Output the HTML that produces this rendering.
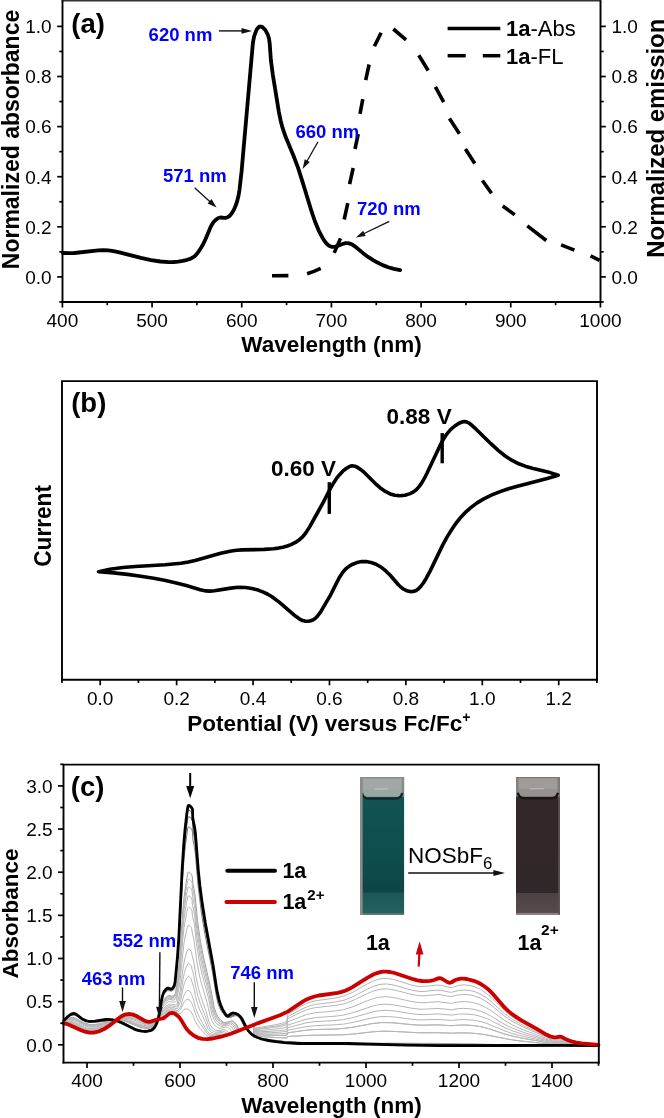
<!DOCTYPE html>
<html><head><meta charset="utf-8"><style>
html,body{margin:0;padding:0;background:#fff;width:664px;height:1118px;overflow:hidden}
svg{display:block;will-change:transform}
text{font-family:"Liberation Sans",sans-serif}
</style></head><body>
<svg width="664" height="1118" viewBox="0 0 664 1118" font-family="Liberation Sans">
<rect width="664" height="1118" fill="#fff"/>
<line x1="61.50" y1="0.60" x2="601.40" y2="0.60" stroke="#333" stroke-width="1.6" />
<line x1="62.50" y1="0.60" x2="62.50" y2="302.90" stroke="#000" stroke-width="1.9" />
<line x1="600.50" y1="0.60" x2="600.50" y2="302.90" stroke="#000" stroke-width="1.9" />
<line x1="61.60" y1="302.00" x2="601.40" y2="302.00" stroke="#000" stroke-width="1.9" />
<line x1="62.40" y1="302.00" x2="62.40" y2="307.50" stroke="#000" stroke-width="1.7" />
<text x="62.40" y="326.70" font-size="19" text-anchor="middle" fill="#000" >400</text>
<line x1="107.23" y1="302.00" x2="107.23" y2="305.20" stroke="#000" stroke-width="1.7" />
<line x1="152.07" y1="302.00" x2="152.07" y2="307.50" stroke="#000" stroke-width="1.7" />
<text x="152.07" y="326.70" font-size="19" text-anchor="middle" fill="#000" >500</text>
<line x1="196.91" y1="302.00" x2="196.91" y2="305.20" stroke="#000" stroke-width="1.7" />
<line x1="241.74" y1="302.00" x2="241.74" y2="307.50" stroke="#000" stroke-width="1.7" />
<text x="241.74" y="326.70" font-size="19" text-anchor="middle" fill="#000" >600</text>
<line x1="286.57" y1="302.00" x2="286.57" y2="305.20" stroke="#000" stroke-width="1.7" />
<line x1="331.41" y1="302.00" x2="331.41" y2="307.50" stroke="#000" stroke-width="1.7" />
<text x="331.41" y="326.70" font-size="19" text-anchor="middle" fill="#000" >700</text>
<line x1="376.25" y1="302.00" x2="376.25" y2="305.20" stroke="#000" stroke-width="1.7" />
<line x1="421.08" y1="302.00" x2="421.08" y2="307.50" stroke="#000" stroke-width="1.7" />
<text x="421.08" y="326.70" font-size="19" text-anchor="middle" fill="#000" >800</text>
<line x1="465.92" y1="302.00" x2="465.92" y2="305.20" stroke="#000" stroke-width="1.7" />
<line x1="510.75" y1="302.00" x2="510.75" y2="307.50" stroke="#000" stroke-width="1.7" />
<text x="510.75" y="326.70" font-size="19" text-anchor="middle" fill="#000" >900</text>
<line x1="555.59" y1="302.00" x2="555.59" y2="305.20" stroke="#000" stroke-width="1.7" />
<line x1="600.42" y1="302.00" x2="600.42" y2="307.50" stroke="#000" stroke-width="1.7" />
<text x="600.42" y="326.70" font-size="19" text-anchor="middle" fill="#000" >1000</text>
<line x1="59.30" y1="301.95" x2="62.50" y2="301.95" stroke="#000" stroke-width="1.7" />
<line x1="600.50" y1="301.95" x2="603.70" y2="301.95" stroke="#000" stroke-width="1.7" />
<line x1="57.20" y1="276.90" x2="62.50" y2="276.90" stroke="#000" stroke-width="1.7" />
<line x1="600.50" y1="276.90" x2="605.80" y2="276.90" stroke="#000" stroke-width="1.7" />
<text x="51.60" y="283.70" font-size="19" text-anchor="end" fill="#000" >0.0</text>
<text x="611.50" y="283.70" font-size="19" text-anchor="start" fill="#000" >0.0</text>
<line x1="59.30" y1="251.85" x2="62.50" y2="251.85" stroke="#000" stroke-width="1.7" />
<line x1="600.50" y1="251.85" x2="603.70" y2="251.85" stroke="#000" stroke-width="1.7" />
<line x1="57.20" y1="226.80" x2="62.50" y2="226.80" stroke="#000" stroke-width="1.7" />
<line x1="600.50" y1="226.80" x2="605.80" y2="226.80" stroke="#000" stroke-width="1.7" />
<text x="51.60" y="233.60" font-size="19" text-anchor="end" fill="#000" >0.2</text>
<text x="611.50" y="233.60" font-size="19" text-anchor="start" fill="#000" >0.2</text>
<line x1="59.30" y1="201.75" x2="62.50" y2="201.75" stroke="#000" stroke-width="1.7" />
<line x1="600.50" y1="201.75" x2="603.70" y2="201.75" stroke="#000" stroke-width="1.7" />
<line x1="57.20" y1="176.70" x2="62.50" y2="176.70" stroke="#000" stroke-width="1.7" />
<line x1="600.50" y1="176.70" x2="605.80" y2="176.70" stroke="#000" stroke-width="1.7" />
<text x="51.60" y="183.50" font-size="19" text-anchor="end" fill="#000" >0.4</text>
<text x="611.50" y="183.50" font-size="19" text-anchor="start" fill="#000" >0.4</text>
<line x1="59.30" y1="151.65" x2="62.50" y2="151.65" stroke="#000" stroke-width="1.7" />
<line x1="600.50" y1="151.65" x2="603.70" y2="151.65" stroke="#000" stroke-width="1.7" />
<line x1="57.20" y1="126.60" x2="62.50" y2="126.60" stroke="#000" stroke-width="1.7" />
<line x1="600.50" y1="126.60" x2="605.80" y2="126.60" stroke="#000" stroke-width="1.7" />
<text x="51.60" y="133.40" font-size="19" text-anchor="end" fill="#000" >0.6</text>
<text x="611.50" y="133.40" font-size="19" text-anchor="start" fill="#000" >0.6</text>
<line x1="59.30" y1="101.55" x2="62.50" y2="101.55" stroke="#000" stroke-width="1.7" />
<line x1="600.50" y1="101.55" x2="603.70" y2="101.55" stroke="#000" stroke-width="1.7" />
<line x1="57.20" y1="76.50" x2="62.50" y2="76.50" stroke="#000" stroke-width="1.7" />
<line x1="600.50" y1="76.50" x2="605.80" y2="76.50" stroke="#000" stroke-width="1.7" />
<text x="51.60" y="83.30" font-size="19" text-anchor="end" fill="#000" >0.8</text>
<text x="611.50" y="83.30" font-size="19" text-anchor="start" fill="#000" >0.8</text>
<line x1="59.30" y1="51.45" x2="62.50" y2="51.45" stroke="#000" stroke-width="1.7" />
<line x1="600.50" y1="51.45" x2="603.70" y2="51.45" stroke="#000" stroke-width="1.7" />
<line x1="57.20" y1="26.40" x2="62.50" y2="26.40" stroke="#000" stroke-width="1.7" />
<line x1="600.50" y1="26.40" x2="605.80" y2="26.40" stroke="#000" stroke-width="1.7" />
<text x="51.60" y="33.20" font-size="19" text-anchor="end" fill="#000" >1.0</text>
<text x="611.50" y="33.20" font-size="19" text-anchor="start" fill="#000" >1.0</text>
<path d="M62.9,253L68.4,253.2L74.3,253L98.3,250.4L103.3,250.2L108.2,250.4L113.6,251.1L119.4,252.3L140.9,257.8L151.1,260.1L160.5,261.5L168.8,262.1L173.8,262L178.2,261.6L182.7,260.9L187.2,259.8L190.1,258.9L192.8,257.5L194.8,256.1L196.5,254.3L199.8,249.9L202.8,244.8L205.6,239L210.5,227.2L212,224.5L213.6,222L216,219.6L218.4,218L220.3,217.5L224.5,217.9L226,217.8L227.7,217.2L229.6,215.9L231.8,213.3L233.8,209.9L235.8,205.3L237.3,200.6L238.5,195.7L239.5,189.8L241.6,171.2L252.9,42.9L254.1,36.4L256.1,30.8L257.1,28.9L258.3,27.5L259.2,26.7L260.3,26.5L261.4,26.7L262.6,27.3L264.1,28.7L265.5,30.3L267.7,34.3L269,38.5L269.7,43.5L270.9,60.3L272.8,74.6L278.9,112.1L280.6,120.4L282.5,127.7L285.5,136.6L293.4,155.5L298,167.7L302.3,181.1L311.5,211.2L314.8,221L318.4,229.8L322.4,237.7L324.7,241.3L326.9,244L329.1,245.8L331.5,246.8L333.2,246.9L335.5,246.6L342.6,244L345.5,243.2L347.9,243.2L350.6,243.8L352.7,244.9L354.8,246.3L362.8,252.9L368.1,256.9L372.7,259.9L377,262.3L382.7,265.1L388.2,267.2L394,268.9L400.1,270.1" fill="none" stroke="#000" stroke-width="3.8" stroke-linejoin="round" stroke-linecap="round"/>
<path d="M272.0,275.8 L288.4,275.6M307.1,273.7 L314.0,271.4 L320.7,268.3M334.2,252.9 L340.5,238.4M344.2,219.5 L347.8,203.2M349.6,184.2 L353.2,168.0M355.0,149.0 L358.2,134.0M360.0,113.9 L362.8,99.2M365.7,80.1 L369.1,64.5M374.4,46.3 L381.1,32.8M393.3,29.0 L406.1,39.8M418.8,55.2 L428.2,70.5M435.4,86.8 L443.7,102.1M449.5,118.4 L459.4,133.7M465.4,149.1 L474.8,163.6M482.4,180.5 L491.5,193.3M502.7,206.0 L514.7,214.8M527.3,225.8 L546.3,240.5M561.1,244.8 L574.4,250.2M590.6,255.9 L599.6,260.3" fill="none" stroke="#000" stroke-width="3.6" stroke-linecap="butt"/>
<line x1="447.60" y1="28.60" x2="500.30" y2="28.60" stroke="#000" stroke-width="3.5" />
<line x1="447.60" y1="55.70" x2="465.70" y2="55.70" stroke="#000" stroke-width="3.5" />
<line x1="482.80" y1="55.70" x2="500.30" y2="55.70" stroke="#000" stroke-width="3.5" />
<text x="506" y="35.7" font-size="22"><tspan font-weight="bold">1a</tspan>-Abs</text>
<text x="506" y="63.8" font-size="22"><tspan font-weight="bold">1a</tspan>-FL</text>
<text x="71.30" y="33.20" font-size="27.5" font-weight="bold" text-anchor="start" fill="#000" >(a)</text>
<text x="331.50" y="352.30" font-size="22.5" font-weight="bold" text-anchor="middle" fill="#000" >Wavelength (nm)</text>
<text transform="translate(19.40,139.50) rotate(-90)" x="0" y="0" font-size="23" font-weight="bold" text-anchor="middle">Normalized absorbance</text>
<text transform="translate(664.30,138.20) rotate(-90)" x="0" y="0" font-size="23.9" font-weight="bold" text-anchor="middle">Normalized emission</text>
<text x="148.60" y="40.60" font-size="18.5" font-weight="bold" text-anchor="start" fill="#0000ff" >620 nm</text>
<text x="163.00" y="181.60" font-size="18.5" font-weight="bold" text-anchor="start" fill="#0000ff" >571 nm</text>
<text x="295.40" y="137.70" font-size="18.5" font-weight="bold" text-anchor="start" fill="#0000ff" >660 nm</text>
<text x="357.00" y="215.40" font-size="18.5" font-weight="bold" text-anchor="start" fill="#0000ff" >720 nm</text>
<line x1="218.90" y1="30.90" x2="242.50" y2="30.90" stroke="#111" stroke-width="1.4" />
<polygon points="252.00,30.90 241.50,33.80 241.50,28.00" fill="#111"/>
<line x1="194.60" y1="187.70" x2="210.30" y2="201.90" stroke="#111" stroke-width="1.3" />
<polygon points="216.60,207.60 207.61,203.38 211.50,199.08" fill="#111"/>
<line x1="318.00" y1="141.70" x2="306.79" y2="161.50" stroke="#111" stroke-width="1.3" />
<polygon points="302.60,168.90 304.76,159.20 309.80,162.06" fill="#111"/>
<line x1="389.30" y1="221.30" x2="363.55" y2="233.79" stroke="#111" stroke-width="1.3" />
<polygon points="355.90,237.50 363.18,230.74 365.71,235.96" fill="#111"/>
<line x1="61.10" y1="381.10" x2="597.90" y2="381.10" stroke="#000" stroke-width="1.9" />
<line x1="62.00" y1="381.10" x2="62.00" y2="680.70" stroke="#000" stroke-width="1.9" />
<line x1="597.00" y1="381.10" x2="597.00" y2="680.70" stroke="#000" stroke-width="1.9" />
<line x1="61.10" y1="679.80" x2="597.90" y2="679.80" stroke="#000" stroke-width="1.9" />
<line x1="61.99" y1="679.80" x2="61.99" y2="683.00" stroke="#000" stroke-width="1.7" />
<line x1="100.20" y1="679.80" x2="100.20" y2="685.30" stroke="#000" stroke-width="1.7" />
<text x="100.20" y="704.60" font-size="19" text-anchor="middle" fill="#000" >0.0</text>
<line x1="138.41" y1="679.80" x2="138.41" y2="683.00" stroke="#000" stroke-width="1.7" />
<line x1="176.62" y1="679.80" x2="176.62" y2="685.30" stroke="#000" stroke-width="1.7" />
<text x="176.62" y="704.60" font-size="19" text-anchor="middle" fill="#000" >0.2</text>
<line x1="214.83" y1="679.80" x2="214.83" y2="683.00" stroke="#000" stroke-width="1.7" />
<line x1="253.04" y1="679.80" x2="253.04" y2="685.30" stroke="#000" stroke-width="1.7" />
<text x="253.04" y="704.60" font-size="19" text-anchor="middle" fill="#000" >0.4</text>
<line x1="291.25" y1="679.80" x2="291.25" y2="683.00" stroke="#000" stroke-width="1.7" />
<line x1="329.46" y1="679.80" x2="329.46" y2="685.30" stroke="#000" stroke-width="1.7" />
<text x="329.46" y="704.60" font-size="19" text-anchor="middle" fill="#000" >0.6</text>
<line x1="367.67" y1="679.80" x2="367.67" y2="683.00" stroke="#000" stroke-width="1.7" />
<line x1="405.88" y1="679.80" x2="405.88" y2="685.30" stroke="#000" stroke-width="1.7" />
<text x="405.88" y="704.60" font-size="19" text-anchor="middle" fill="#000" >0.8</text>
<line x1="444.09" y1="679.80" x2="444.09" y2="683.00" stroke="#000" stroke-width="1.7" />
<line x1="482.30" y1="679.80" x2="482.30" y2="685.30" stroke="#000" stroke-width="1.7" />
<text x="482.30" y="704.60" font-size="19" text-anchor="middle" fill="#000" >1.0</text>
<line x1="520.51" y1="679.80" x2="520.51" y2="683.00" stroke="#000" stroke-width="1.7" />
<line x1="558.72" y1="679.80" x2="558.72" y2="685.30" stroke="#000" stroke-width="1.7" />
<text x="558.72" y="704.60" font-size="19" text-anchor="middle" fill="#000" >1.2</text>
<line x1="596.93" y1="679.80" x2="596.93" y2="683.00" stroke="#000" stroke-width="1.7" />
<path d="M98.6,571.7L109.9,569.3L122.8,567.5L135.2,566.5L165.1,564.8L180.9,563.2L188.3,562L195.1,560.5L220.7,553.3L231.4,551L236.7,550.3L242.1,549.9L264.1,549.4L273.3,548.8L278.4,548.1L282.9,547.2L287.3,546L291,544.6L295.4,542.4L299.4,539.7L302.6,536.8L305.7,533L309.5,527.1L316.8,514L322.8,503.2L330.3,488.6L333.9,482.4L336.7,478.2L339.8,474.4L342.8,471.2L346.2,468.5L349.5,466.5L352.1,465.8L354.9,466.2L357.7,467.5L360.9,469.7L364.5,472.7L375.1,483.3L380,487.7L385.4,491.4L390.2,493.9L394.9,495.3L399.8,495.8L404.9,495.3L409.4,493.9L413.1,492.1L416.3,489.7L419.3,486.4L421.9,482.7L424.2,478.7L427.2,472.8L440.8,444L443.7,438.7L446.8,434.1L450.3,429.9L454.1,426.5L458.9,423.3L462.8,421.8L464.7,421.6L466.5,421.9L468.6,422.8L470.5,424.2L476.1,429.2L490.9,443.7L497.9,450.1L505.2,456L512.6,460.7L518.8,463.8L525.9,466.4L533.3,468.5L550.1,472.6L558.3,475.2L558.3,475.3L547.2,478.5L516.5,486.4L507.7,489L500.1,491.6L491.3,495.2L483.8,498.9L477.1,502.9L470.8,507.6L465.7,512.1L460.9,517.2L456.2,523L451.9,529.2L447,537.1L442.4,545.6L430.1,571.1L426.3,578.2L423.5,582.7L420.9,586.2L418.5,588.8L416.2,590.5L413.3,591.5L410.3,591.6L406.7,590.7L403.3,589L401,587.2L398.4,584.8L390.2,575.3L386.1,571.2L381.3,567.3L376,564.3L370.9,562.4L366.2,561.6L361.8,561.6L357,562.6L352.8,564.2L349.3,566.1L346.1,568.6L343,571.9L339.2,577.7L330.2,595.6L320.5,612.2L317.6,616L315.2,618.4L312.8,620L309.8,621L307.6,621.3L304.9,621.1L302.6,620.5L300,619.3L295.4,616.1L279.5,602.4L272,596.8L267.3,594L262.8,591.9L258.1,590.1L253.2,588.8L245.8,587.5L238.3,587.3L230.8,588.1L214.4,590.8L209.9,591.1L206,590.9L200.2,589.7L186.3,585.6L175.2,582.7L164.4,580.3L153.7,578.2L140.8,576.2L127.5,574.4L113.5,572.9L98.6,571.7" fill="none" stroke="#000" stroke-width="3.6" stroke-linejoin="round" stroke-linecap="round"/>
<line x1="329.30" y1="482.20" x2="329.30" y2="513.90" stroke="#000" stroke-width="3.4" />
<line x1="442.20" y1="433.10" x2="442.20" y2="463.30" stroke="#000" stroke-width="3.4" />
<text x="270.90" y="475.70" font-size="22.5" font-weight="bold" text-anchor="start" fill="#000" >0.60 V</text>
<text x="386.60" y="423.60" font-size="22.5" font-weight="bold" text-anchor="start" fill="#000" >0.88 V</text>
<text x="71.20" y="412.20" font-size="27.5" font-weight="bold" text-anchor="start" fill="#000" >(b)</text>
<text transform="translate(51.4,525.9) rotate(-90)" font-size="24" font-weight="bold" text-anchor="middle" textLength="81.6" lengthAdjust="spacingAndGlyphs">Current</text>
<text x="187.2" y="731.3" font-size="22.5" font-weight="bold">Potential (V) versus Fc/Fc<tspan font-size="14" dy="-9.5">+</tspan></text>
<path d="M64,1020.4L66.5,1017.6L69,1015.6L71.5,1014.4L74,1014.1L77,1015.2L84,1019.5L89.5,1021.1L96,1021.4L111.5,1020.2L115,1020.3L118.5,1020.9L123.5,1022.8L135.5,1029.8L139,1031L142,1031.4L146.5,1031.1L151,1029.6L154,1027.5L156.5,1024.3L158,1020.8L159,1016.9L161,1002.2L162,997.5L163,994.5L165,991.1L167.5,988.9L168.5,988.7L171,989.4L172.5,988.9L174,986.9L175,983.7L177.5,957.5L179,936.9L182,874.8L184,844.7L185.5,829.2L187.5,813.4L188,810.7L188.5,810L189,810L190,810.5L191.5,812L192.5,814.4L193,823.9L194.5,831.4L195.5,838.5L198.5,876L202,905.2L205,924L212.5,963.6L216.5,990.5L218.5,1000L220,1004.6L222,1008.8L224.5,1012.5L227,1015L228.5,1015.8L230,1016L231.5,1015.7L236,1014L237.5,1014.1L239,1014.8L240.5,1016.3L242,1018.7L246,1027.8L253.5,1024.8L254,1036.3L257.5,1037.7L262,1038.8L281,1041.4L303.5,1043.3L328,1044.4L354.5,1044.7L427.5,1044.7L541,1045.9L598.5,1045.5" fill="none" stroke="rgb(80,80,80)" stroke-width="1.0"/>
<path d="M64,1020.4L66.5,1017.8L69,1015.9L71.5,1014.7L74,1014.5L77,1015.6L84,1019.9L89.5,1021.5L96.5,1021.7L112,1020.3L115.5,1020.4L119,1021L124,1022.9L135.5,1029.4L139,1030.6L142.5,1031.1L147,1030.8L151,1029.4L154,1027.3L156.5,1024.2L158,1020.8L159,1017L161.5,1000.1L163.5,994.2L165.5,991.3L167.5,989.7L169,989.5L171,990.2L172.5,989.6L174,987.8L175,984.8L177.5,959.6L179,939.8L182,879.7L184,850.4L185.5,835.4L187.5,820L188,817.4L188.5,816.8L189,816.8L190,817.3L191.5,818.8L192.5,821.5L193,830.4L194.5,837.8L195.5,845L198.5,881.5L202,909.9L205,928.1L212.5,966.7L216.5,993L218.5,1001.8L220,1006.1L222,1010.1L224.5,1013.6L227,1015.9L228.5,1016.5L230,1016.6L235.5,1014.7L237,1014.7L238.5,1015.3L240,1016.6L241.5,1018.9L245.5,1027.7L246,1027.8L253.5,1024.8L254,1036.3L257.5,1037.7L262,1038.8L281,1041.3L303,1043.1L327.5,1044.1L350.5,1044.4L433.5,1044.4L546,1045.9L598.5,1045.5" fill="none" stroke="rgb(95,95,95)" stroke-width="1.0"/>
<path d="M64,1020.6L66.5,1018.1L69,1016.3L71.5,1015.3L74,1015.1L77,1016.2L84,1020.4L87,1021.5L90,1022.1L97,1022.2L112.5,1020.4L116,1020.4L119.5,1020.9L124.5,1022.8L136,1028.9L139.5,1030L143,1030.5L147,1030.3L150.5,1029.3L153.5,1027.5L156,1024.8L157.5,1022L158.5,1019.2L159.5,1014.4L161.5,1001L163.5,995.3L165.5,992.4L167.5,990.9L169,990.6L171.5,991.2L172.5,990.8L174,989.2L175,986.6L177.5,963.1L179,944.4L182,887.3L184,859L185.5,844.7L187.5,830L188,827.5L188.5,826.9L189,826.9L190.5,827.9L191.5,829L192,829.9L192.5,832.2L193,840.3L194.5,847.5L195.5,855L198,885.2L201.5,913.8L205,934.5L212.5,971.9L216,994.5L218,1003.3L219.5,1007.5L221,1010.6L223,1013.6L225,1015.8L227,1017.2L229,1017.7L230.5,1017.4L235,1015.7L236.5,1015.7L238,1016.4L239.5,1017.8L240.5,1019.3L245,1028.2L253.5,1024.8L254,1036.2L254.5,1036.5L258,1037.8L262.5,1038.8L282,1041.3L303.5,1042.9L327,1043.9L348.5,1044.2L394.5,1043.9L436.5,1044.1L548,1045.8L598.5,1045.4" fill="none" stroke="rgb(117,117,117)" stroke-width="1.0"/>
<path d="M64,1021.2L66.5,1019.3L69,1018.1L71.5,1017.5L73.5,1017.6L76.5,1018.6L82,1021.9L85,1023.3L89,1024.4L93,1024.7L99.5,1023.9L113.5,1020.7L120,1020.3L123,1020.8L126,1021.7L139.5,1027.1L143,1028L146,1028.4L149,1028.2L151.5,1027.4L154,1026L156,1024L157.5,1021.7L158.5,1019.3L161.5,1005.2L163.5,1000.3L165.5,997.7L167.5,996.1L169,995.6L172,996.2L173,996L174.5,995L175.5,993.2L178,974.9L179.5,960L182.5,914.6L184,897.9L186.5,880L188,872.6L188.5,872L189.5,872.4L190.5,873.2L192,875.4L193,884.4L194,888.6L195,895.1L197.5,920.8L200.5,941.7L203.5,957.1L210.5,987.5L214,1006.6L216,1013L217.5,1016.1L219,1018.3L221,1020.5L223,1022L224.5,1022.5L226,1022.5L231.5,1020.8L233,1021.1L234,1021.6L236,1023.8L239.5,1030L240,1030.2L253.5,1024.8L254,1036.1L255,1036.6L258.5,1037.8L263.5,1038.8L283.5,1041.3L304.5,1042.5L326,1043.3L345.5,1043.6L389,1043.2L435.5,1043.4L474,1043.9L514,1045.1L546,1045.7L575,1045.8L598.5,1045.4" fill="none" stroke="rgb(156,156,156)" stroke-width="1.0"/>
<path d="M64,1021.3L66,1019.8L68.5,1018.6L71,1017.9L73,1017.9L76,1018.8L82.5,1022.6L85.5,1023.9L89,1024.8L93,1025L99.5,1024.2L114,1020.6L117.5,1020.2L120.5,1020.2L126.5,1021.6L140.5,1027L146.5,1028.1L149.5,1027.8L152,1027L154,1025.8L156,1023.9L157.5,1021.6L158.5,1019.3L161.5,1005.8L163.5,1001L165.5,998.5L168,996.6L169.5,996.3L172.5,996.9L174,996.4L175.5,994.4L176,992.4L179.5,963.5L182.5,920.1L184,903.9L186.5,886.7L188,879.6L188.5,879L189.5,879.4L190.5,880.2L192,882.4L192.5,888.1L194.5,898.1L197.5,927L200.5,947L203.5,961.8L210,989.2L213,1005.5L214.5,1011.4L217,1017.1L219,1019.9L221,1021.8L223,1023L224.5,1023.3L226,1023.1L230,1021.7L232.5,1022L234,1023.1L235,1024.2L239,1030.6L253.5,1024.8L254,1034.2L254.5,1034.9L258.5,1035.9L263.5,1036.6L275,1037.5L285,1037.9L287,1037.9L287.5,1036.5L309.5,1035.3L343.5,1034.8L352.5,1034.1L373,1031.8L382.5,1031.2L393,1031.4L419.5,1032.8L438,1032.7L451.5,1033.2L460.5,1032.9L469,1033L477,1033.6L484.5,1034.5L505.5,1038.7L514.5,1040.2L546,1043.8L576.5,1045.2L598.5,1045.3" fill="none" stroke="rgb(182,182,182)" stroke-width="1.0"/>
<path d="M64,1021.4L66,1020L68.5,1018.9L71,1018.3L73,1018.3L76,1019.2L82.5,1023L85.5,1024.3L89,1025.2L93,1025.4L99.5,1024.5L114.5,1020.6L118,1020.1L121,1020.1L127,1021.4L141.5,1026.8L147,1027.8L149.5,1027.6L151.5,1027L153.5,1025.9L155.5,1024.3L157,1022.4L158.5,1019.4L161.5,1006.5L162.5,1003.8L164,1001.1L166,998.9L168.5,997.3L170,997.2L172.5,997.8L174,997.4L175.5,995.8L176,994.3L179.5,967.3L182.5,926.1L184,910.5L186.5,894L188,887.3L188.5,886.7L190.5,887.9L192,890.1L192.5,896.3L194.5,905.6L197,929.8L200,950L203,964.7L209.5,991.3L212.5,1007.1L214,1012.9L216.5,1018.4L218.5,1021L220.5,1022.8L222,1023.8L224,1024.2L229.5,1022.6L232,1023.1L234,1024.9L238,1031L253.5,1024.8L254,1034.2L254.5,1034.9L258.5,1035.9L264,1036.7L275.5,1037.5L285.5,1037.9L287,1037.9L287.5,1036.5L309.5,1035.3L343.5,1034.8L352.5,1034.1L373,1031.8L382.5,1031.2L393,1031.4L419.5,1032.8L438,1032.7L451.5,1033.2L460,1032.9L468.5,1033L476.5,1033.5L484.5,1034.5L505.5,1038.7L515,1040.3L546,1043.8L576.5,1045.2L598.5,1045.3" fill="none" stroke="rgb(182,182,182)" stroke-width="1.0"/>
<path d="M64,1021.5L66,1020.2L68.5,1019.2L71,1018.7L73,1018.8L76,1019.8L82,1023.2L85,1024.6L88,1025.5L91.5,1025.9L95,1025.7L98.5,1025.2L113,1021L119.5,1019.9L123,1020.1L126.5,1020.8L141,1026.1L146,1027.3L148.5,1027.3L151,1026.9L153.5,1025.7L155.5,1024.1L157,1022.3L158.5,1019.4L161.5,1007.3L162.5,1004.7L164,1002.1L166,1000L168,998.6L169.5,998.1L172.5,998.8L173.5,998.7L175,997.9L176,996.3L179.5,971.6L182.5,933.2L184,918.2L186.5,902.6L188,896.3L188.5,895.7L190.5,896.9L192,899.2L192.5,905.4L194.5,914.4L197,937.8L200,956.8L202.5,968.6L209,994.3L212,1009.4L213.5,1014.9L216,1020L218,1022.4L220,1024.1L221.5,1024.9L223,1025.1L224.5,1024.9L228,1023.7L230.5,1023.9L232,1024.8L233,1025.9L236.5,1031.4L237,1031.4L253.5,1024.8L254,1032.8L254.5,1033.8L262,1034.9L278,1035.4L287,1035.2L287.5,1032.9L304.5,1030.4L313.5,1029.6L334.5,1029.1L344,1028.4L352.5,1027.3L372,1023.6L381.5,1022.6L392,1022.7L412,1024.7L420,1025.2L438,1024.9L451.5,1025.7L459.5,1025.1L467,1025.1L474.5,1025.7L482,1026.9L489,1028.8L504,1033.8L512,1036L523.5,1038.4L546,1042.4L553,1043.2L561,1043.3L577,1044.8L598.5,1045.2" fill="none" stroke="rgb(182,182,182)" stroke-width="1.0"/>
<path d="M64,1021.6L66,1020.5L68.5,1019.6L71,1019.3L73,1019.4L76,1020.4L84.5,1025L88,1026.1L91.5,1026.5L95,1026.3L98.5,1025.7L114,1020.8L120.5,1019.7L124,1019.9L128,1020.7L142,1025.8L146.5,1026.8L149,1026.9L151.5,1026.4L153.5,1025.4L155.5,1023.9L157,1022.1L158.5,1019.4L161.5,1008.3L162.5,1005.9L164,1003.4L166,1001.3L168.5,999.7L170,999.4L173.5,1000.1L175,999.5L176,998.4L176.5,996.6L178.5,984.3L180,972.4L182.5,941.9L184,927.8L186.5,913.4L188,907.5L188.5,907L189.5,907.4L191,908.8L192,910.8L192.5,916.5L194,922.4L194.5,925.6L196.5,943.9L199.5,962.6L202,974L208.5,998.5L211.5,1012.8L212.5,1016.3L215,1021.4L217,1023.8L219,1025.4L220.5,1026.1L222,1026.3L227,1025L229.5,1025.3L231.5,1026.8L235,1031.9L236,1031.8L253.5,1024.8L254,1032.8L254.5,1033.8L262,1034.9L278,1035.4L287,1035.2L287.5,1032.9L304.5,1030.4L313.5,1029.6L334.5,1029.1L344,1028.4L352.5,1027.3L372,1023.6L381.5,1022.6L392,1022.7L412,1024.7L420,1025.2L438,1024.9L451.5,1025.7L459.5,1025.1L466.5,1025L474.5,1025.7L482,1026.9L489,1028.8L504,1033.8L512,1036L523.5,1038.4L546,1042.4L553,1043.2L561,1043.3L577,1044.8L598.5,1045.2" fill="none" stroke="rgb(182,182,182)" stroke-width="1.0"/>
<path d="M64,1021.9L66,1021L68.5,1020.3L71,1020.2L73,1020.4L76,1021.5L84.5,1026L88,1027L91.5,1027.4L95,1027.2L99,1026.4L114.5,1020.7L118,1019.8L121.5,1019.3L125.5,1019.4L130,1020.3L135,1021.9L143,1025.1L147,1026.1L151,1025.9L153,1025.2L155,1023.9L157,1021.9L158.5,1019.5L162,1008.7L163.5,1006.1L165,1004.3L167,1002.6L169,1001.5L170.5,1001.4L173,1002L174.5,1002.1L175.5,1001.8L176.5,1000.7L178.5,990.8L180,981.2L184,942.9L186.5,930.4L188,925.5L188.5,925L190,925.9L191.5,927.6L192.5,934L194,939.9L196.5,959.7L199,973.5L201.5,983.8L207,1002.5L210.5,1017.1L211.5,1020.1L214,1024.4L215.5,1026L217.5,1027.4L219,1028.1L220.5,1028.3L225.5,1027L227.5,1027.3L229.5,1028.7L233,1033L253.5,1024.8L254,1031.8L254.5,1033L259.5,1033.7L268,1034L278.5,1033.9L287,1033.3L287.5,1030.3L305,1026.8L314.5,1025.7L335,1024.8L343.5,1024.1L352,1022.6L374,1017.5L381,1016.6L387.5,1016.5L394.5,1017L411.5,1019.3L419,1019.9L438,1019.4L451.5,1020.5L458.5,1019.7L463.5,1019.5L473.5,1020.2L480,1021.4L486,1023.1L505,1031L513,1033.7L524,1036.5L545.5,1041.3L551.5,1042.3L561,1042.6L569.5,1043.8L577,1044.5L598.5,1045.1" fill="none" stroke="rgb(182,182,182)" stroke-width="1.0"/>
<path d="M64,1022.2L68,1021.3L72.5,1021.6L75.5,1022.7L84.5,1027.3L88,1028.3L91,1028.7L95,1028.4L99,1027.4L103.5,1025.8L116,1020.3L120,1019.1L123.5,1018.5L128,1018.7L132.5,1019.6L136.5,1020.9L144,1024.2L147.5,1025.2L151,1025.2L154,1024.1L156,1022.6L158,1020.4L159,1018.5L162,1010.9L163.5,1008.6L165.5,1006.5L168,1004.8L170,1004L171.5,1004.1L175,1005L176.5,1004.8L177,1004.2L180,991.9L183,968.9L184.5,960.1L186.5,952.9L188,949.2L188.5,948.9L190,949.9L191.5,951.6L192,955L194,962.9L196,976.7L198.5,988.4L200.5,995.4L206,1011.3L209,1021.9L210,1024.5L212.5,1028L215.5,1030.1L218,1030.7L223,1029.6L225,1029.8L227,1031L230,1034L253.5,1024.8L254,1030.8L254.5,1032.3L260.5,1032.8L270.5,1032.7L279.5,1032.2L287,1031.4L287.5,1027.8L305.5,1023L315,1021.6L335,1020.5L343.5,1019.6L352,1017.8L374,1011.6L380.5,1010.5L387,1010.3L394,1010.9L411.5,1013.7L419,1014.5L424,1014.6L438,1013.9L451.5,1015.1L458.5,1014.2L463.5,1013.9L473.5,1014.7L480,1016.2L486,1018.3L491.5,1020.8L505,1027.8L513,1031.1L524,1034.5L545.5,1040.3L552.5,1041.6L561,1041.8L569.5,1043.3L577,1044.2L586.5,1044.8L598.5,1045.1" fill="none" stroke="rgb(182,182,182)" stroke-width="1.0"/>
<path d="M64,1022.4L68,1021.8L72,1022.3L75.5,1023.5L84.5,1028.1L88,1029.1L91,1029.4L95,1029.1L99,1028.1L103.5,1026.3L117,1019.8L121,1018.6L124.5,1018L129,1018L133.5,1018.9L137.5,1020.4L144.5,1023.6L147.5,1024.6L150.5,1024.8L153.5,1023.9L156,1022.4L158,1020.3L162,1012.2L164,1009.6L166,1007.8L168,1006.4L170,1005.7L171.5,1005.7L176,1006.9L177,1006.7L177.5,1005.9L180.5,995.5L183,979.5L184.5,972.1L186.5,966.4L188,963.5L188.5,963.3L190,964.4L191.5,966.1L192,969.6L193.5,974L195.5,985.9L198,996.5L200,1002.8L205.5,1016.7L208.5,1025.8L210,1028.4L211.5,1030L213.5,1031.3L215.5,1032.1L217.5,1032.1L221,1031.3L223,1031.2L225,1031.9L228,1034.5L228.5,1034.5L237,1031.4L253.5,1024.8L254,1029.8L254.5,1031.5L260,1031.7L269,1031.4L277.5,1030.8L284.5,1030L287,1029.5L287.5,1025.2L306,1019.3L315.5,1017.6L335,1016.2L343.5,1015.1L352,1013L373.5,1005.8L380,1004.5L386.5,1004.2L394,1004.9L411,1008.1L419,1009.1L424,1009.2L438,1008.4L451.5,1009.8L458.5,1008.6L463.5,1008.4L468.5,1008.6L473.5,1009.3L480,1011L486,1013.4L491.5,1016.4L505,1024.6L513,1028.4L524,1032.5L545.5,1039.3L552.5,1040.8L561,1041.1L569.5,1042.9L577,1043.9L586.5,1044.7L598.5,1045" fill="none" stroke="rgb(182,182,182)" stroke-width="1.0"/>
<path d="M64,1022.6L68,1022.2L72,1022.9L75.5,1024.3L84.5,1028.8L88,1029.8L91,1030.1L95,1029.8L99.5,1028.5L104,1026.5L117.5,1019.6L121.5,1018.1L125.5,1017.4L130,1017.4L134.5,1018.4L138,1019.7L144.5,1023L147.5,1024L150.5,1024.3L153,1023.8L155.5,1022.5L157.5,1020.8L159,1018.9L162.5,1012.7L164.5,1010.5L167,1008.5L169,1007.5L171,1007.1L172.5,1007.3L176,1008.6L177,1008.7L177.5,1008.5L180.5,1001L183.5,986.4L184.5,982.9L186.5,978.5L188,976.5L188.5,976.3L190.5,978L191.5,979.3L192,982.2L193.5,986.3L195.5,996.6L197.5,1003.8L199.5,1009.3L205,1021.3L207.5,1027.8L208.5,1029.6L210,1031.3L212,1032.6L214.5,1033.4L216.5,1033.4L220,1032.6L222,1032.6L223.5,1033L226.5,1035L227,1035L236.5,1031.6L253.5,1024.8L254.5,1030.6L260.5,1030.5L272,1029.6L285,1027.7L287,1027.2L287.5,1022.1L301,1016.6L306.5,1014.6L315.5,1012.7L335.5,1010.9L343.5,1009.6L352,1007.1L367.5,1000.7L373.5,998.6L380,997.1L386.5,996.7L394,997.6L411,1001.4L419,1002.6L424,1002.7L438,1001.7L451.5,1003.4L458.5,1001.9L464,1001.6L469,1001.9L473.5,1002.7L480,1004.7L486,1007.5L491.5,1011L505,1020.7L513,1025.3L523.5,1029.9L545.5,1038.1L552.5,1039.9L561,1040.2L569.5,1042.3L577,1043.6L586.5,1044.5L598.5,1044.9" fill="none" stroke="rgb(182,182,182)" stroke-width="1.0"/>
<path d="M64,1022.8L67.5,1022.7L71.5,1023.5L75,1024.9L84.5,1029.6L88,1030.6L91,1030.9L95,1030.5L99.5,1029.1L104,1027L118,1019.2L122,1017.7L126,1016.8L130,1016.6L134,1017.3L138,1018.8L147,1023.3L150,1023.9L152.5,1023.6L155,1022.5L157.5,1020.7L163,1013.4L165.5,1011.1L168,1009.6L170,1008.8L171.5,1008.7L173,1009L177,1010.7L178,1010.4L180,1007.4L181,1005.3L183.5,996.6L184.5,994.1L186.5,991.4L188,990.3L188.5,990.3L191.5,993.3L192,995.6L193.5,999.3L195.5,1007.5L197.5,1013.1L199.5,1017.4L207.5,1031.8L209.5,1033.5L212.5,1034.7L215,1034.8L219,1034L221,1033.9L222.5,1034.3L225,1035.6L234.5,1032.4L253.5,1024.8L254.5,1029.6L261,1029.1L274.5,1027.4L281,1026.3L286.5,1024.9L287,1024.8L287.5,1018.8L301,1012.2L306.5,1009.9L310.5,1008.7L315.5,1007.6L335.5,1005.4L344,1003.8L352,1000.9L367.5,993.5L373.5,991L380,989.3L386.5,988.8L394,989.9L411,994.3L419,995.7L424,995.8L438,994.6L441.5,994.9L449,996.4L451.5,996.5L458.5,994.9L464,994.4L469,994.8L474,995.8L480.5,998.2L486.5,1001.7L492,1005.8L504.5,1016.2L513,1021.9L523.5,1027.2L545.5,1036.8L552.5,1038.9L561,1039.3L569.5,1041.8L577,1043.2L586.5,1044.3L598.5,1044.8" fill="none" stroke="rgb(182,182,182)" stroke-width="1.0"/>
<path d="M64,1022.9L67.5,1023L71,1023.8L74.5,1025.2L84.5,1030.1L88,1031.1L91,1031.4L95,1030.9L99.5,1029.5L104.5,1027L118.5,1018.9L123,1017.1L127,1016.3L131,1016.2L134.5,1016.8L138,1018.2L147,1022.9L149.5,1023.5L152,1023.4L154.5,1022.6L157,1021L158.5,1019.7L161,1016.4L163.5,1013.8L166,1011.8L168.5,1010.4L170.5,1009.8L172.5,1009.8L177,1011.9L178,1012.1L181,1009L183.5,1003L184.5,1001.3L186,999.9L188,999.1L189.5,1000.1L191.5,1002.5L193.5,1007.6L195.5,1014.3L197.5,1018.9L199.5,1022.4L207,1033.4L209,1034.8L212,1035.6L214.5,1035.7L220,1034.8L224.5,1035.8L235,1032.2L253.5,1024.8L254.5,1029L274.5,1026.3L280.5,1025.1L286,1023.6L287,1023.3L287.5,1016.8L301,1009.5L306.5,1007L310.5,1005.6L315.5,1004.4L335.5,1002L344,1000.2L352,997.1L367.5,989L373.5,986.3L380,984.4L386.5,983.9L394,985.1L411,989.9L419,991.4L424,991.5L434,990.3L438,990.2L441.5,990.5L449,992.1L451.5,992.3L458.5,990.5L464,990L469,990.4L474,991.4L480.5,994.1L486.5,997.8L492,1002.3L504.5,1013.7L513,1019.8L523.5,1025.6L545.5,1036L549,1037.4L552.5,1038.3L561,1038.7L569.5,1041.4L577,1043L586.5,1044.2L598.5,1044.8" fill="none" stroke="rgb(182,182,182)" stroke-width="1.0"/>
<path d="M64,1023L67.5,1023.3L71,1024.3L82,1029.6L86,1031.1L89.5,1031.8L93,1031.8L97,1030.9L101,1029.2L117.5,1019.3L121.5,1017.4L125,1016.2L130,1015.6L134.5,1016.2L138,1017.5L147,1022.5L149.5,1023.2L151.5,1023.2L154,1022.5L157,1020.9L163.5,1014.7L166,1012.9L168.5,1011.5L170.5,1010.9L172.5,1011L174.5,1011.7L178,1013.7L178.5,1013.7L180.5,1013.2L181.5,1012.5L184,1009.5L185,1009L186.5,1008.9L188.5,1009.3L191,1011.8L193,1015.5L195.5,1021.7L197.5,1025.1L200,1028.3L206.5,1035.3L208.5,1036.2L211.5,1036.7L214,1036.6L219,1035.7L223,1036.2L234,1032.6L253.5,1024.8L254,1025.7L254.5,1028.3L275,1024.8L281,1023.5L286,1021.9L287,1021.5L287.5,1014.4L301,1006.4L306.5,1003.6L311,1001.9L316,1000.7L335.5,998L344,996L352,992.7L367.5,983.8L373.5,980.9L380,978.8L386,978.3L393.5,979.4L411,984.9L419,986.5L424,986.5L434,985.3L438,985.1L441.5,985.5L449,987.3L451.5,987.4L453.5,987.1L458.5,985.4L464,984.9L469,985.3L474,986.5L480.5,989.3L486.5,993.4L492,998.3L504.5,1010.7L513,1017.4L523.5,1023.7L545.5,1035.1L549,1036.6L552.5,1037.5L561,1038L569.5,1041L577,1042.7L586.5,1044L598.5,1044.7" fill="none" stroke="rgb(182,182,182)" stroke-width="1.0"/>
<path d="M63.8,1020.5L67.7,1016.7L69.8,1015L72,1013.8L73.7,1013.5L75,1013.7L76.3,1014.3L82.7,1019.3L86.3,1020.9L88.6,1021.3L91.5,1021.4L94.9,1021.1L106,1019.4L109,1019.4L112.5,1019.8L116.4,1020.7L120.1,1022.1L134.7,1029.3L138,1030.4L141.6,1031.2L146.4,1031.5L150.3,1030.7L152,1029.9L153.1,1029.1L155.2,1026.5L156.9,1022.8L158.4,1017.9L159.5,1012.6L161.8,998.8L162.7,995.1L163.6,992.6L165.1,990.2L167.1,988.4L167.9,988.1L168.7,988.2L171,989.1L171.8,989L172.5,988.4L174.1,986L175.1,982.2L177.5,956.6L178.8,938.2L182.1,870.3L183.7,845.4L185,829.9L186.6,815.4L187.8,806.9L188.2,805.8L188.7,805.4L189.9,805.9L191.2,807.1L192.1,808.5L192.6,810L192.7,817.7L194.7,828L195.4,833.4L198.3,870.3L199.9,885.7L201.9,901.1L205.3,922.8L213.1,965.5L216.8,989.9L219.1,1000.1L220.6,1004.8L222.3,1008.9L224.5,1012.8L226.4,1015.6L227.1,1016L227.9,1016L231.3,1013.6L232.3,1013.2L233.4,1013L235.8,1013.5L238.3,1014.8L240.4,1016.7L242.1,1019.1L246.5,1027.8L248.4,1030.9L251.1,1033.8L254.2,1036L257.3,1037.5L261,1038.8L265.8,1040L271.7,1041.1L284.1,1042.7L298,1043.5L347.6,1043.5L406.5,1045.1L440,1045.6L555.5,1045.4L598.5,1045.7" fill="none" stroke="#000" stroke-width="2.8" stroke-linejoin="round" stroke-linecap="round"/>
<path d="M63.5,1023.2L66.3,1023.8L69.5,1025L80.4,1029.9L85.1,1031.7L89.3,1032.6L93.6,1032.7L98.7,1031.5L104.1,1029.1L109,1025.9L119.8,1017.4L123.1,1015.4L126.1,1014.3L129.7,1014L133.4,1014.7L137.1,1016.3L144.9,1020.9L147.2,1021.7L149,1021.9L151.5,1021.4L157.1,1019.5L162.7,1018.5L164.5,1017.5L169.3,1013.6L170.6,1013.1L172.4,1013L173.7,1013.2L175.3,1013.9L178.4,1016.4L180.9,1019.6L185.3,1027L187.3,1029.8L190.5,1033.1L194.1,1035.8L198,1037.8L202.3,1038.9L207.2,1039.1L212.8,1038.5L221.2,1036.7L230.8,1033.7L258.1,1023.1L279.9,1015.3L287.7,1011.6L303.1,1001.4L307.1,999.2L310.8,997.7L314.6,996.5L318.9,995.5L337.6,992.8L341.5,991.9L345.2,990.7L348.9,989.1L352.4,987.2L367.2,977.8L373.3,974.5L376.9,973.1L380.1,972.2L383.3,971.7L386.2,971.6L390.1,972L394.6,973L413.2,979.2L417.5,980.3L421.9,981L426.4,981.2L430.5,980.8L434,980L438.2,978.4L439.6,978.1L441.8,978.6L447.2,982L449.4,982.8L451.2,982.5L455,980.2L456.8,979.5L460.6,978.7L463.7,978.6L466.8,979L473.7,980.8L477.4,982.3L481.3,984.3L484.6,986.5L488.1,989.2L493.3,994.4L504.8,1007.7L508.4,1011.1L512.7,1014.6L521,1020.1L536.3,1028.6L546.7,1034.8L550.5,1036.5L554,1037.4L556,1037.4L559.6,1036.6L560.8,1036.7L562.1,1037.1L566.1,1039.3L568.9,1040.5L572.2,1041.6L575.6,1042.4L581.5,1043.3L598.5,1044.8" fill="none" stroke="#cc0000" stroke-width="3.8" stroke-linejoin="round" stroke-linecap="round"/>
<line x1="62.60" y1="764.60" x2="599.70" y2="764.60" stroke="#000" stroke-width="1.9" />
<line x1="63.50" y1="764.60" x2="63.50" y2="1063.50" stroke="#000" stroke-width="1.9" />
<line x1="598.80" y1="764.60" x2="598.80" y2="1063.50" stroke="#000" stroke-width="1.9" />
<line x1="62.60" y1="1062.60" x2="599.70" y2="1062.60" stroke="#000" stroke-width="1.9" />
<line x1="87.00" y1="1062.60" x2="87.00" y2="1068.10" stroke="#000" stroke-width="1.7" />
<text x="87.00" y="1087.00" font-size="19" text-anchor="middle" fill="#000" >400</text>
<line x1="133.50" y1="1062.60" x2="133.50" y2="1065.80" stroke="#000" stroke-width="1.7" />
<line x1="180.00" y1="1062.60" x2="180.00" y2="1068.10" stroke="#000" stroke-width="1.7" />
<text x="180.00" y="1087.00" font-size="19" text-anchor="middle" fill="#000" >600</text>
<line x1="226.50" y1="1062.60" x2="226.50" y2="1065.80" stroke="#000" stroke-width="1.7" />
<line x1="273.00" y1="1062.60" x2="273.00" y2="1068.10" stroke="#000" stroke-width="1.7" />
<text x="273.00" y="1087.00" font-size="19" text-anchor="middle" fill="#000" >800</text>
<line x1="319.50" y1="1062.60" x2="319.50" y2="1065.80" stroke="#000" stroke-width="1.7" />
<line x1="366.00" y1="1062.60" x2="366.00" y2="1068.10" stroke="#000" stroke-width="1.7" />
<text x="366.00" y="1087.00" font-size="19" text-anchor="middle" fill="#000" >1000</text>
<line x1="412.50" y1="1062.60" x2="412.50" y2="1065.80" stroke="#000" stroke-width="1.7" />
<line x1="459.00" y1="1062.60" x2="459.00" y2="1068.10" stroke="#000" stroke-width="1.7" />
<text x="459.00" y="1087.00" font-size="19" text-anchor="middle" fill="#000" >1200</text>
<line x1="505.50" y1="1062.60" x2="505.50" y2="1065.80" stroke="#000" stroke-width="1.7" />
<line x1="552.00" y1="1062.60" x2="552.00" y2="1068.10" stroke="#000" stroke-width="1.7" />
<text x="552.00" y="1087.00" font-size="19" text-anchor="middle" fill="#000" >1400</text>
<line x1="598.50" y1="1062.60" x2="598.50" y2="1065.80" stroke="#000" stroke-width="1.7" />
<line x1="58.00" y1="1044.80" x2="63.50" y2="1044.80" stroke="#000" stroke-width="1.7" />
<text x="52.60" y="1051.60" font-size="19" text-anchor="end" fill="#000" >0.0</text>
<line x1="60.30" y1="1023.22" x2="63.50" y2="1023.22" stroke="#000" stroke-width="1.7" />
<line x1="58.00" y1="1001.65" x2="63.50" y2="1001.65" stroke="#000" stroke-width="1.7" />
<text x="52.60" y="1008.45" font-size="19" text-anchor="end" fill="#000" >0.5</text>
<line x1="60.30" y1="980.07" x2="63.50" y2="980.07" stroke="#000" stroke-width="1.7" />
<line x1="58.00" y1="958.50" x2="63.50" y2="958.50" stroke="#000" stroke-width="1.7" />
<text x="52.60" y="965.30" font-size="19" text-anchor="end" fill="#000" >1.0</text>
<line x1="60.30" y1="936.92" x2="63.50" y2="936.92" stroke="#000" stroke-width="1.7" />
<line x1="58.00" y1="915.35" x2="63.50" y2="915.35" stroke="#000" stroke-width="1.7" />
<text x="52.60" y="922.15" font-size="19" text-anchor="end" fill="#000" >1.5</text>
<line x1="60.30" y1="893.77" x2="63.50" y2="893.77" stroke="#000" stroke-width="1.7" />
<line x1="58.00" y1="872.20" x2="63.50" y2="872.20" stroke="#000" stroke-width="1.7" />
<text x="52.60" y="879.00" font-size="19" text-anchor="end" fill="#000" >2.0</text>
<line x1="60.30" y1="850.62" x2="63.50" y2="850.62" stroke="#000" stroke-width="1.7" />
<line x1="58.00" y1="829.05" x2="63.50" y2="829.05" stroke="#000" stroke-width="1.7" />
<text x="52.60" y="835.85" font-size="19" text-anchor="end" fill="#000" >2.5</text>
<line x1="60.30" y1="807.47" x2="63.50" y2="807.47" stroke="#000" stroke-width="1.7" />
<line x1="58.00" y1="785.90" x2="63.50" y2="785.90" stroke="#000" stroke-width="1.7" />
<text x="52.60" y="792.70" font-size="19" text-anchor="end" fill="#000" >3.0</text>
<line x1="60.30" y1="764.33" x2="63.50" y2="764.33" stroke="#000" stroke-width="1.7" />
<text x="70.80" y="795.90" font-size="27.5" font-weight="bold" text-anchor="start" fill="#000" >(c)</text>
<text x="331.50" y="1112.80" font-size="22.5" font-weight="bold" text-anchor="middle" fill="#000" >Wavelength (nm)</text>
<text transform="translate(18.40,913.60) rotate(-90)" x="0" y="0" font-size="22.5" font-weight="bold" text-anchor="middle">Absorbance</text>
<text x="81.70" y="984.60" font-size="18.5" font-weight="bold" text-anchor="start" fill="#0000ff" >463 nm</text>
<text x="112.50" y="947.40" font-size="18.5" font-weight="bold" text-anchor="start" fill="#0000ff" >552 nm</text>
<text x="230.30" y="978.90" font-size="18.5" font-weight="bold" text-anchor="start" fill="#0000ff" >746 nm</text>
<line x1="122.50" y1="987.50" x2="122.50" y2="1002.00" stroke="#111" stroke-width="1.4" />
<polygon points="122.50,1012.00 119.20,1001.00 125.80,1001.00" fill="#111"/>
<line x1="159.90" y1="952.30" x2="159.39" y2="1007.90" stroke="#111" stroke-width="1.4" />
<polygon points="159.30,1017.90 156.10,1006.87 162.70,1006.93" fill="#111"/>
<line x1="254.30" y1="982.20" x2="254.30" y2="1008.00" stroke="#111" stroke-width="1.4" />
<polygon points="254.30,1018.00 251.00,1007.00 257.60,1007.00" fill="#111"/>
<line x1="190.20" y1="773.00" x2="190.20" y2="787.00" stroke="#000" stroke-width="2.0" />
<polygon points="186.2,785.9 194.2,785.9 190.2,798.2" fill="#000"/>
<line x1="418.70" y1="966.60" x2="419.40" y2="953.00" stroke="#cc0010" stroke-width="2.2" />
<polygon points="415.8,954.6 423.5,954.6 419.6,941.3" fill="#cc0010"/>
<line x1="227.30" y1="870.80" x2="275.00" y2="870.80" stroke="#000" stroke-width="4.0" stroke-linecap="round"/>
<line x1="226.40" y1="902.00" x2="275.00" y2="902.00" stroke="#cc0000" stroke-width="3.8" stroke-linecap="round"/>
<text x="282.40" y="878.00" font-size="21.5" font-weight="bold" text-anchor="start" fill="#000" >1a</text>
<text x="282.4" y="908.9" font-size="21.5" font-weight="bold">1a<tspan font-size="15" dx="1" dy="-9.2">2+</tspan></text>

<defs>
<linearGradient id="body1" x1="0" y1="0" x2="0" y2="1"><stop offset="0" stop-color="#125555"/><stop offset="0.3" stop-color="#115151"/><stop offset="0.6" stop-color="#104c4c"/><stop offset="0.83" stop-color="#0e4545"/><stop offset="0.845" stop-color="#1b5856"/><stop offset="1" stop-color="#25625f"/></linearGradient>
<linearGradient id="side1" x1="0" y1="0" x2="1" y2="0"><stop offset="0" stop-color="#135b58" stop-opacity="0.7"/><stop offset="1" stop-color="#135b58" stop-opacity="0"/></linearGradient>
<linearGradient id="body2" x1="0" y1="0" x2="0" y2="1"><stop offset="0" stop-color="#322829"/><stop offset="0.5" stop-color="#322829"/><stop offset="0.84" stop-color="#30272a"/><stop offset="0.845" stop-color="#4d4243"/><stop offset="1" stop-color="#574c4d"/></linearGradient>
</defs>
<rect x="360.1" y="777.4" width="44" height="137.5" fill="url(#body1)"/>
<rect x="360.1" y="777.4" width="44" height="19.5" fill="#8b8c8a"/>
<path d="M362.6,778.4 L401.6,778.4 L401.6,791.4 Q401.6,796.4 397.1,796.4 L367.1,796.4 Q362.6,796.4 362.6,791.4 Z" fill="#a3a8a6"/>
<rect x="363.1" y="789.4" width="38" height="7" fill="#8fa8a2" opacity="0.6"/>
<line x1="374.1" y1="789.0" x2="388.1" y2="789.0" stroke="#dedede" stroke-width="0.8" opacity="0.7"/>
<path d="M361.90000000000003,792.9 Q363.1,798.4 369.1,798.6 L395.1,798.6 Q401.1,798.4 402.3,792.9" fill="none" stroke="#162624" stroke-width="2.4"/>
<rect x="360.1" y="913.1" width="44" height="1.8" fill="#5e7a76"/>
<rect x="360.1" y="777.4" width="2.5" height="137.5" fill="#8b8e8c"/>
<rect x="516.0" y="777.2" width="43.8" height="137.5" fill="url(#body2)"/>
<rect x="516.0" y="777.2" width="43.8" height="19.5" fill="#84817f"/>
<path d="M518.5,778.2 L557.3,778.2 L557.3,791.2 Q557.3,796.2 552.8,796.2 L523.0,796.2 Q518.5,796.2 518.5,791.2 Z" fill="#9e9b99"/>
<rect x="519.0" y="789.2" width="37.8" height="7" fill="#8f8b89" opacity="0.6"/>
<line x1="530.0" y1="788.8000000000001" x2="544.0" y2="788.8000000000001" stroke="#dedede" stroke-width="0.8" opacity="0.7"/>
<path d="M517.8,792.7 Q519.0,798.2 525.0,798.4000000000001 L550.8,798.4000000000001 Q556.8,798.2 558.0,792.7" fill="none" stroke="#1a1416" stroke-width="2.4"/>
<rect x="516.0" y="912.9000000000001" width="43.8" height="1.8" fill="#8a8283"/>
<rect x="558.2" y="797" width="1.6" height="117.7" fill="#5a5050"/>
<text x="408.0" y="863.4" font-size="21.5" textLength="74.9" lengthAdjust="spacingAndGlyphs">NOSbF</text>
<text x="482.9" y="868.8" font-size="16" textLength="9.4" lengthAdjust="spacingAndGlyphs">6</text>
<line x1="408.20" y1="873.00" x2="494.40" y2="873.00" stroke="#111" stroke-width="1.4" />
<polygon points="505.00,873.00 493.40,876.00 493.40,870.00" fill="#111"/>
<text x="365.90" y="950.10" font-size="21.5" font-weight="bold" text-anchor="start" fill="#000" >1a</text>
<text x="517.6" y="949.8" font-size="21.5" font-weight="bold">1a<tspan font-size="15.5" dx="-0.5" dy="-14.4">2+</tspan></text>
</svg>
</body></html>
